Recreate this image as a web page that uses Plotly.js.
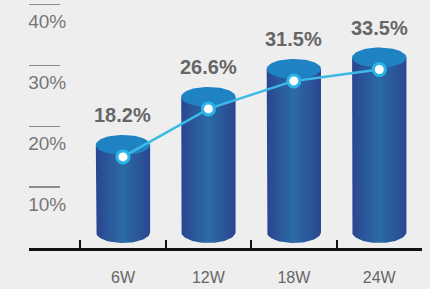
<!DOCTYPE html>
<html><head><meta charset="utf-8">
<script src="https://cdn.plot.ly/plotly-3.0.1.min.js"></script>
<style>html,body{margin:0;padding:0;background:#eeeeef;}#chart{width:430px;height:289px;}</style>
</head><body><div id="chart"></div>
<script>
// ---- data ----
const categories = ['6W', '12W', '18W', '24W'];
const values = [18.2, 26.6, 31.5, 33.5];
const yTickVals = [10, 20, 30, 40];

// ---- geometry / styles ----
const W = 430, H = 289, mt = 0, mb = 41, ml = 29, mr = 8;
const plotH = H - mt - mb;
const pxPerUnitData = 5.71;   // cylinder scale
const pxPerUnitTick = 6.07;   // scale of the left tick marks
const dataLo = 0.14;
const tickLo = -0.066;
const markerDrop = 12;        // px the line sits below the cylinder top centre
const halfW = 0.318;          // cylinder half width (category units)
const ryTopPx = 10, ryBotPx = 11, bottomPx = 232;
const ryTop = ryTopPx / pxPerUnitData, ryBot = ryBotPx / pxPerUnitData;
const yBase = dataLo + (plotH - bottomPx) / pxPerUnitData;

const traces = [];
const idx = categories.map((c, i) => i);

idx.forEach(i => {
  const v = values[i];
  const bx = [], by = [];
  bx.push(i - halfW); by.push(v);
  for (let k = 0; k <= 40; k++) {
    const t = Math.PI * k / 40;
    bx.push(i - halfW * Math.cos(t));
    by.push(yBase - ryBot * Math.sin(t));
  }
  bx.push(i + halfW); by.push(v);
  traces.push({
    x: bx, y: by, xaxis: 'x', yaxis: 'y2', type: 'scatter', mode: 'lines',
    fill: 'toself', line: {width: 0, color: 'rgba(0,0,0,0)'},
    fillgradient: {type: 'horizontal',
      colorscale: [[0, '#2a4690'], [0.5, '#2b6ba7'], [1, '#2a4690']]},
    hoverinfo: 'skip', showlegend: false
  });
  const tx = [], ty = [];
  for (let k = 0; k <= 60; k++) {
    const t = 2 * Math.PI * k / 60;
    tx.push(i + halfW * Math.cos(t));
    ty.push(v + ryTop * Math.sin(t));
  }
  traces.push({
    x: tx, y: ty, xaxis: 'x', yaxis: 'y2', type: 'scatter', mode: 'lines',
    fill: 'toself', line: {width: 0, color: 'rgba(0,0,0,0)'},
    fillcolor: '#1f83c3', hoverinfo: 'skip', showlegend: false
  });
});

traces.push({
  x: idx, y: values, xaxis: 'x', yaxis: 'y3', type: 'scatter', mode: 'lines+markers',
  line: {color: '#3bb9e7', width: 2.5},
  marker: {size: 12, color: '#ffffff', line: {color: '#2cb6e8', width: 3}},
  hoverinfo: 'skip', showlegend: false, cliponaxis: false
});
// anchor traces for the label axes
traces.push({x: idx, y: values, xaxis: 'x2', yaxis: 'y', type: 'scatter', mode: 'none',
  hoverinfo: 'skip', showlegend: false});

const xRange = [-1.1, 3.5];
const layout = {
  width: W, height: H,
  margin: {l: ml, r: mr, t: mt, b: mb, pad: 0},
  paper_bgcolor: '#eeeeef', plot_bgcolor: 'rgba(0,0,0,0)',
  showlegend: false,
  font: {family: 'Liberation Sans, Arial, sans-serif'},
  xaxis: {
    range: xRange, tickmode: 'array', tickvals: [-0.5, 0.5, 1.5, 2.5, 3.5],
    showticklabels: false, ticks: 'inside', ticklen: 8, tickwidth: 2, tickcolor: '#111',
    showline: true, linecolor: '#111', linewidth: 2.5, showgrid: false, zeroline: false,
    fixedrange: true, anchor: 'y'
  },
  xaxis2: {
    overlaying: 'x', anchor: 'y', side: 'bottom', range: xRange,
    tickmode: 'array', tickvals: idx, ticktext: categories, ticks: '',
    showline: false, showgrid: false, zeroline: false,
    tickfont: {size: 16, color: '#666666'}, ticklabelstandoff: 18
  },
  yaxis: {
    range: [tickLo, tickLo + plotH / pxPerUnitTick], tickmode: 'array',
    tickvals: yTickVals, ticktext: yTickVals.map(v => v + '%'),
    ticks: 'inside', ticklen: 31, tickwidth: 1.3, tickcolor: '#8c8c8c',
    ticklabelposition: 'inside', ticklabelshift: 17, ticklabelstandoff: -31,
    tickfont: {size: 19, color: '#777777'},
    showline: false, showgrid: false, zeroline: false, anchor: 'x'
  },
  yaxis2: {
    overlaying: 'y', anchor: 'x', visible: false,
    range: [dataLo, dataLo + plotH / pxPerUnitData]
  },
  yaxis3: {
    overlaying: 'y', anchor: 'x', visible: false,
    range: [dataLo + markerDrop / pxPerUnitData, dataLo + markerDrop / pxPerUnitData + plotH / pxPerUnitData]
  },
  annotations: idx.map(i => ({
    x: i, y: values[i], xref: 'x', yref: 'y2', yshift: 30,
    text: values[i].toFixed(1) + '%', showarrow: false,
    font: {size: 20, color: '#666666', family: 'Liberation Sans, Arial, sans-serif', weight: 'bold'}
  }))
};

Plotly.newPlot('chart', traces, layout, {displayModeBar: false, staticPlot: true});
</script></body></html>
